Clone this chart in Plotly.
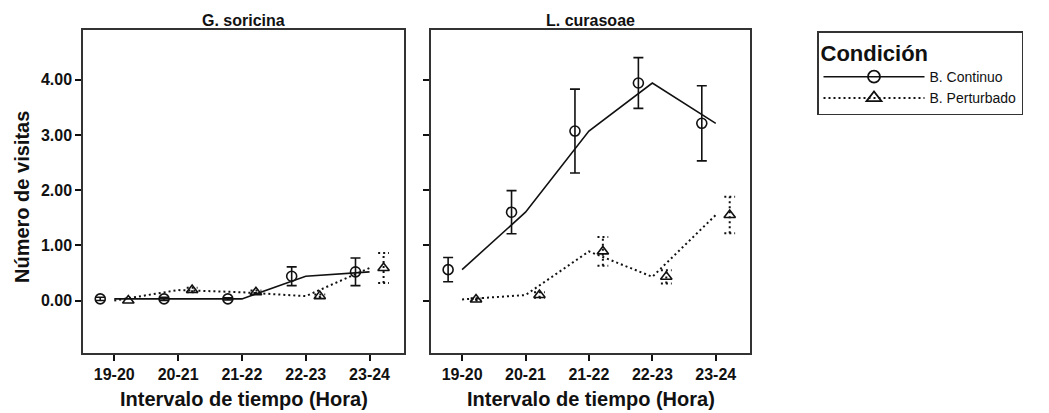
import plotly.graph_objects as go

# ---------------- data ----------------
intervals = ["19-20", "20-21", "21-22", "22-23", "23-24"]
panels = ["G. soricina", "L. curasoae"]

gs_cont_mean = [0.03, 0.03, 0.03, 0.44, 0.52]
gs_cont_se = [0.03, 0.03, 0.02, 0.17, 0.25]
gs_pert_mean = [0.00, 0.19, 0.15, 0.08, 0.59]
gs_pert_se = [0.00, 0.04, 0.03, 0.03, 0.27]

lc_cont_mean = [0.56, 1.60, 3.07, 3.94, 3.21]
lc_cont_se = [0.22, 0.39, 0.76, 0.46, 0.68]
lc_pert_mean = [0.02, 0.10, 0.89, 0.43, 1.55]
lc_pert_se = [0.02, 0.05, 0.26, 0.12, 0.33]

yticks = [0, 1, 2, 3, 4]

# ---------------- layout helpers ----------------
W, H = 1049, 413
def px_x(p): return p / W
def px_y(p): return 1 - p / H

OFFSET = 0.22      # horizontal dodge of markers (category units)
CAP = 0.085        # half-width of error caps (category units)
FONT = "Liberation Sans, Arial, sans-serif"
BLACK = "#111111"
DOT = "2px,3px"

fig = go.Figure()

def add_panel(idx, cont_m, cont_s, pert_m, pert_s):
    xa = "x" if idx == 1 else "x2"
    ya = "y" if idx == 1 else "y2"
    xs = list(range(len(intervals)))
    # fitted lines at category positions
    fig.add_trace(go.Scatter(x=xs, y=cont_m, mode="lines", xaxis=xa, yaxis=ya,
                             line=dict(color=BLACK, width=1.6), showlegend=False, hoverinfo="skip"))
    fig.add_trace(go.Scatter(x=xs, y=pert_m, mode="lines", xaxis=xa, yaxis=ya,
                             line=dict(color=BLACK, width=2, dash=DOT), showlegend=False, hoverinfo="skip"))
    # continuous: circles with solid error bars
    fig.add_trace(go.Scatter(x=[v - OFFSET for v in xs], y=cont_m, mode="markers", xaxis=xa, yaxis=ya,
                             marker=dict(symbol="circle-open", size=10, color=BLACK, line=dict(width=1.6)),
                             error_y=dict(type="data", array=cont_s, visible=True, color=BLACK,
                                          thickness=1.6, width=5),
                             showlegend=False))
    # perturbed: dotted error bars built as segments
    ex, ey = [], []
    for v, m, s in zip(xs, pert_m, pert_s):
        if s <= 0:
            continue
        xc = v + OFFSET
        ex += [xc, xc, None, xc - CAP, xc + CAP, None, xc - CAP, xc + CAP, None]
        ey += [m - s, m + s, None, m + s, m + s, None, m - s, m - s, None]
    fig.add_trace(go.Scatter(x=ex, y=ey, mode="lines", xaxis=xa, yaxis=ya,
                             line=dict(color=BLACK, width=2, dash=DOT),
                             showlegend=False, hoverinfo="skip"))
    fig.add_trace(go.Scatter(x=[v + OFFSET for v in xs], y=pert_m, mode="markers", xaxis=xa, yaxis=ya,
                             marker=dict(symbol="triangle-up-open", size=10, color=BLACK, line=dict(width=1.6)),
                             showlegend=False))

add_panel(1, gs_cont_mean, gs_cont_se, gs_pert_mean, gs_pert_se)
add_panel(2, lc_cont_mean, lc_cont_se, lc_pert_mean, lc_pert_se)

# legend-only entries
fig.add_trace(go.Scatter(x=[None], y=[None], mode="lines+markers", name="B. Continuo",
                         line=dict(color=BLACK, width=1.6),
                         marker=dict(symbol="circle-open", size=12, color=BLACK, line=dict(width=1.8))))
fig.add_trace(go.Scatter(x=[None], y=[None], mode="lines+markers", name="B. Perturbado",
                         line=dict(color=BLACK, width=2, dash=DOT),
                         marker=dict(symbol="triangle-up-open", size=13, color=BLACK, line=dict(width=1.8))))

xaxis_common = dict(
    tickmode="array", tickvals=list(range(len(intervals))), ticktext=intervals,
    range=[-0.49, 4.54], showgrid=False, zeroline=False,
    showline=True, mirror=True, linecolor="#333333", linewidth=1.5,
    ticks="outside", ticklen=6, tickwidth=2, tickcolor=BLACK,
    tickfont=dict(family=FONT, size=16, color=BLACK, weight="bold"),
)
yaxis_common = dict(
    tickmode="array", tickvals=yticks, range=[-0.95, 4.9], tickformat=".2f",
    showgrid=False, zeroline=False,
    showline=True, mirror=True, linecolor="#333333", linewidth=1.5,
    ticks="outside", ticklen=6, tickwidth=2, tickcolor=BLACK,
    tickfont=dict(family=FONT, size=16, color=BLACK, weight="bold"),
    domain=[1 - 353 / H, 1 - 30 / H],
)

fig.update_layout(
    width=W, height=H,
    margin=dict(l=0, r=0, t=0, b=0, autoexpand=False),
    paper_bgcolor="white", plot_bgcolor="white",
    xaxis=dict(xaxis_common, domain=[px_x(83), px_x(404)], anchor="y"),
    xaxis2=dict(xaxis_common, domain=[px_x(431), px_x(750)], anchor="y2"),
    yaxis=dict(yaxis_common, anchor="x"),
    yaxis2=dict(yaxis_common, anchor="x2", showticklabels=False),
    legend=dict(
        x=px_x(817), y=px_y(31), xanchor="left", yanchor="top",
        bordercolor="#333333", borderwidth=1.5, bgcolor="white",
        title=dict(text="Condición", font=dict(family=FONT, size=22, color=BLACK, weight="bold")),
        font=dict(family=FONT, size=14, color=BLACK),
        itemwidth=101, tracegroupgap=0,
    ),
)

annotations = []
for name, (l, r) in zip(panels, [(83, 404), (431, 750)]):
    annotations.append(dict(text=name, x=px_x((l + r) / 2), y=px_y(21), xref="paper", yref="paper",
                            showarrow=False, xanchor="center", yanchor="middle",
                            font=dict(family=FONT, size=16, color=BLACK, weight="bold")))
    annotations.append(dict(text="Intervalo de tiempo (Hora)", x=px_x((l + r) / 2), y=px_y(399),
                            xref="paper", yref="paper", showarrow=False,
                            xanchor="center", yanchor="middle",
                            font=dict(family=FONT, size=20, color=BLACK, weight="bold")))
annotations.append(dict(text="Número de visitas", x=px_x(22), y=px_y(197), xref="paper", yref="paper",
                        showarrow=False, textangle=-90, xanchor="center", yanchor="middle",
                        font=dict(family=FONT, size=20, color=BLACK, weight="bold")))
fig.update_layout(annotations=annotations)

fig.write_html("out.html")
